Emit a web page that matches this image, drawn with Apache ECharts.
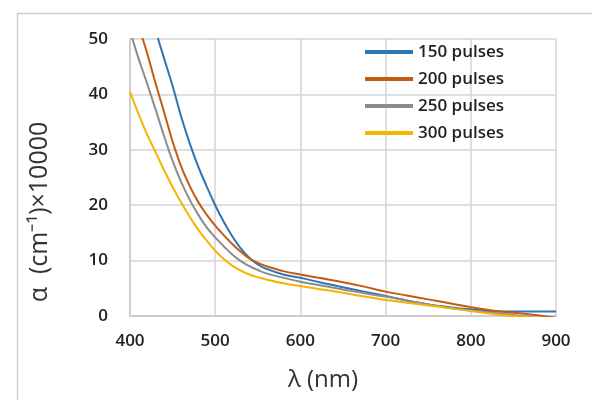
<!DOCTYPE html>
<html>
<head>
<meta charset="utf-8">
<script src="https://cdn.jsdelivr.net/npm/echarts@6/dist/echarts.min.js"></script>
<style>
html,body{margin:0;padding:0;background:#fff;}
#chart{width:592px;height:400px;}
</style>
</head>
<body>
<div id="chart"></div>
<script>
const wavelengths = [400,410,420,430,440,450,460,470,480,490,500,510,520,530,540,550,560,580,600,625,650,675,700,725,750,775,800,825,850,875,900];
const seriesNames = ['150 pulses','200 pulses','250 pulses','300 pulses'];
const pulses150 = [66.5,61.5,56.5,51.5,46.5,41.5,36,31.2,27,23.4,20.0,17.0,14.4,12.2,10.5,9.3,8.5,7.5,6.9,6.0,5.2,4.4,3.6,2.8,2.1,1.6,1.2,0.9,0.8,0.8,0.8];
const pulses200 = [58,52.5,47.5,42,36.8,31.5,27,23.5,20.6,18.3,16.3,14.6,13.0,11.6,10.4,9.6,9.0,8.1,7.5,6.8,6.1,5.3,4.4,3.7,3.0,2.3,1.6,1.0,0.6,0.2,-0.3];
const pulses250 = [51.5,46.5,42,37.3,32.5,28,24.2,21,18.3,16,14.2,12.6,11.1,9.9,9.0,8.3,7.7,6.9,6.2,5.5,4.8,4.1,3.5,2.8,2.1,1.5,1.0,0.6,0.2,-0.3,-0.8];
const pulses300 = [40.5,36.5,32.8,29.6,26.3,23.3,20.5,17.9,15.6,13.6,11.8,10.3,9.1,8.2,7.5,7.0,6.6,5.9,5.4,4.8,4.2,3.5,2.9,2.4,1.9,1.4,0.9,0.4,0.0,-0.4,-0.8];
const xTicks = [400,500,600,700,800,900];
const yTicks = [0,10,20,30,40,50];
const colors = ['#2e75b6','#c55a11','#8c8c8c','#f5b400'];

const allSeries = [pulses150,pulses200,pulses250,pulses300];
const font = 'Open Sans';
const chart = echarts.init(document.getElementById('chart'));
chart.setOption({
  animation:false,
  backgroundColor:'#fff',
  color:colors,
  grid:{left:130,right:36,top:39,bottom:84},
  legend:{
    orient:'vertical', left:365, top:43, padding:0,
    itemWidth:48, itemHeight:4, itemGap:9, icon:'rect',
    textStyle:{fontFamily:font,fontSize:17,fontWeight:600,color:'#222',lineHeight:18},
    data:seriesNames
  },
  xAxis:{
    type:'value', min:xTicks[0], max:xTicks[xTicks.length-1], interval:100,
    name:'λ (nm)', nameLocation:'middle', nameGap:52,
    nameTextStyle:{fontFamily:font,fontSize:24,color:'#333',padding:[0,40,0,0]},
    axisLine:{show:true,lineStyle:{color:'#c8c8c8',width:1.5}},
    axisTick:{show:false},
    axisLabel:{margin:17,fontFamily:font,fontSize:17,fontWeight:600,color:'#222'},
    splitLine:{show:true,lineStyle:{color:'#d4d4d4',width:1.5}}
  },
  yAxis:{
    type:'value', min:yTicks[0], max:yTicks[yTicks.length-1], interval:10,
    axisLine:{show:true,lineStyle:{color:'#c8c8c8',width:1.5}},
    axisTick:{show:false},
    axisLabel:{margin:22,fontFamily:font,fontSize:17,fontWeight:600,color:'#222'},
    splitLine:{show:true,lineStyle:{color:'#d4d4d4',width:1.5}}
  },
  graphic:[
    {type:'rect',left:15,top:11,shape:{x:0,y:0,width:600,height:420},style:{fill:'none',stroke:'#d0d0d0',lineWidth:1.5},silent:true,z:-10},
    {type:'text',x:40,y:212,rotation:Math.PI/2,style:{text:'α  (cm⁻¹)×10000',fontFamily:font,fontSize:25,fill:'#333',align:'center',verticalAlign:'middle'}}
  ],
  series: seriesNames.map((n,i)=>({
    name:n, type:'line', smooth:0.4, showSymbol:false, clip:true,
    lineStyle:{width:2,color:colors[i]},
    data: wavelengths.map((w,j)=>[w, allSeries[i][j]])
  }))
});
</script>
</body>
</html>
